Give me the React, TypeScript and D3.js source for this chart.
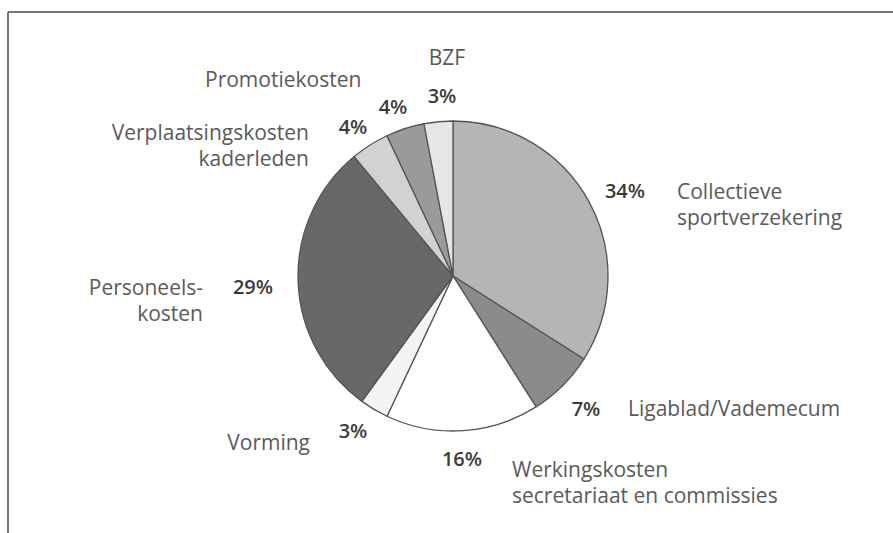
import React from 'react';
import * as d3 from 'd3';

// slices clockwise from 12 o'clock
const categories = [
  'Collectieve sportverzekering',
  'Ligablad/Vademecum',
  'Werkingskosten secretariaat en commissies',
  'Vorming',
  'Personeelskosten',
  'Verplaatsingskosten kaderleden',
  'Promotiekosten',
  'BZF',
];
const shares = [34, 7, 16, 3, 29, 4, 4, 3];
const nameLines = [
  ['Collectieve', 'sportverzekering'],
  ['Ligablad/Vademecum'],
  ['Werkingskosten', 'secretariaat en commissies'],
  ['Vorming'],
  ['Personeels-', 'kosten'],
  ['Verplaatsingskosten', 'kaderleden'],
  ['Promotiekosten'],
  ['BZF'],
];

const fills = ['#b5b5b5', '#8b8b8b', '#ffffff', '#f4f4f4', '#686868', '#d2d2d2', '#9a9a9a', '#e6e6e6'];

// label layout: percentage [x, y] and name [x, y, anchor]
const pctPos: [number, number][] = [
  [625, 198], [586, 416], [462, 466], [353, 438], [253, 294], [353, 134], [393, 114], [442, 103],
];
const namePos: [number, number, string][] = [
  [677, 199, 'start'], [628, 416, 'start'], [512, 477, 'start'], [310, 450, 'end'],
  [203, 295, 'end'], [309, 140, 'end'], [205, 87, 'start'], [447, 65, 'middle'],
];

const W = 893;
const H = 533;
const cx = 453;
const cy = 276;
const r = 155;

export default function App() {
  const pie = d3.pie<number>().sort(null).value(d => d);
  const arc = d3.arc<d3.PieArcDatum<number>>().innerRadius(0).outerRadius(r);
  const arcs = pie(shares);
  const font = "'Open Sans', 'DejaVu Sans', sans-serif";

  return (
    <svg width={W} height={H} style={{ position: 'absolute', left: 0, top: 0, background: '#fff' }}>
      <rect x={0} y={0} width={W} height={H} fill="#ffffff" />
      {/* frame */}
      <line x1={8} y1={12} x2={W} y2={12} stroke="#777" strokeWidth={2} />
      <line x1={8} y1={12} x2={8} y2={H} stroke="#777" strokeWidth={2} />

      <g transform={`translate(${cx},${cy})`}>
        {arcs.map((a, i) => (
          <path key={categories[i]} d={arc(a) || ''} fill={fills[i]} stroke="#555" strokeWidth={1.3} strokeLinejoin="round" />
        ))}
      </g>

      {arcs.map((a, i) => (
        <text key={'p' + i} x={pctPos[i][0]} y={pctPos[i][1]} textAnchor="middle"
          fontFamily={font} fontSize={20} fontWeight={600} fill="#3a3a3a">
          {`${shares[i]}%`}
        </text>
      ))}

      {nameLines.map((lines, i) => (
        <text key={'n' + i} x={namePos[i][0]} y={namePos[i][1]} textAnchor={namePos[i][2] as any}
          fontFamily={font} fontSize={21} fill="#5a5a5a">
          {lines.map((l, j) => (
            <tspan key={j} x={namePos[i][0]} dy={j === 0 ? 0 : 26}>{l}</tspan>
          ))}
        </text>
      ))}
    </svg>
  );
}
